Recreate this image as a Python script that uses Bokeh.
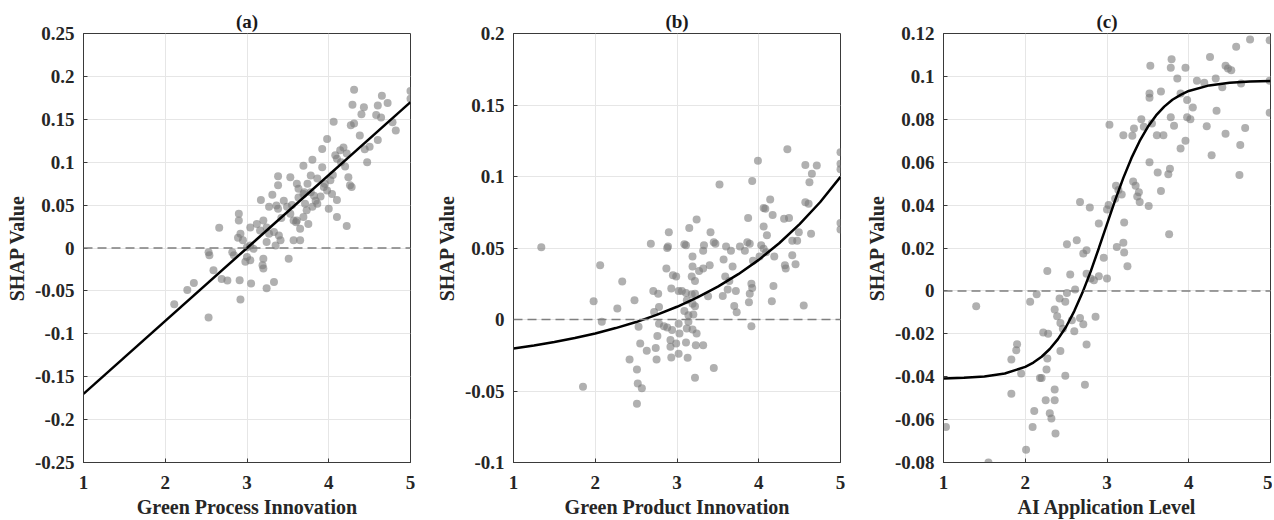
from bokeh.plotting import figure
from bokeh.layouts import row
from bokeh.models import FixedTicker, CustomJSTickFormatter, Span, Range1d
from bokeh.embed import file_html
from bokeh.resources import INLINE

FONT = "Liberation Serif"

# ---------------- data ----------------
titles = ["(a)", "(b)", "(c)"]
xlabels = ["Green Process Innovation", "Green Product Innovation", "AI Application Level"]
x_ticks = [1, 2, 3, 4, 5]
a_yticks = [-0.25, -0.2, -0.15, -0.1, -0.05, 0, 0.05, 0.1, 0.15, 0.2, 0.25]
b_yticks = [-0.1, -0.05, 0, 0.05, 0.1, 0.15, 0.2]
c_yticks = [-0.08, -0.06, -0.04, -0.02, 0, 0.02, 0.04, 0.06, 0.08, 0.1, 0.12]

a_x = [4.31, 4.65, 4.72, 5.0, 5.0, 4.29, 4.43, 4.40, 4.60, 4.58, 4.64, 4.82, 4.78, 4.06, 4.27, 4.31,
       4.38, 3.98, 4.60, 4.50, 3.92, 4.47, 3.80, 3.69, 4.08, 4.14, 4.18, 4.22, 4.10, 3.92, 3.78, 3.38,
       3.38, 3.53, 3.61, 3.63, 3.74, 3.86, 3.94, 3.98, 4.02, 4.24, 4.26, 4.28, 4.10, 4.04, 4.22, 4.10,
       4.00, 3.17, 3.31, 3.27, 3.36, 3.38, 3.49, 3.53, 3.57, 3.63, 3.69, 3.78, 3.84, 3.82, 3.86, 3.71,
       3.73, 3.69, 3.75, 3.61, 3.65, 3.57, 3.65, 2.90, 2.90, 2.66, 2.92, 2.95, 3.04, 3.12, 3.20, 3.24,
       3.16, 3.27, 3.33, 3.39, 3.41, 3.24, 3.35, 3.04, 3.00, 3.08, 2.53, 2.54, 2.84, 3.00, 3.04, 2.98,
       3.20, 3.19, 3.20, 3.51, 2.59, 2.69, 2.76, 2.35, 2.27, 2.91, 3.05, 3.33, 3.24, 2.11, 2.92, 2.53,
       2.82, 2.89, 3.45, 3.55, 3.90, 4.15, 4.20, 3.60, 3.70, 3.80, 4.44, 4.05, 3.95, 3.42]
a_y = [0.1845, 0.1775, 0.169, 0.183, 0.174, 0.167, 0.164, 0.156, 0.166, 0.155, 0.152, 0.137, 0.1465, 0.147, 0.143, 0.145,
       0.131, 0.127, 0.126, 0.118, 0.1155, 0.100, 0.103, 0.096, 0.108, 0.114, 0.117, 0.110, 0.104, 0.094, 0.0845, 0.0837,
       0.073, 0.0826, 0.075, 0.069, 0.075, 0.081, 0.071, 0.067, 0.079, 0.0826, 0.073, 0.071, 0.056, 0.063, 0.0256, 0.036,
       0.0457, 0.056, 0.062, 0.048, 0.0496, 0.0457, 0.048, 0.040, 0.032, 0.059, 0.063, 0.065, 0.055, 0.061, 0.0515, 0.0515,
       0.044, 0.036, 0.028, 0.032, 0.0225, 0.009, 0.009, 0.040, 0.032, 0.0236, 0.0167, 0.009, 0.024, 0.028, 0.032, 0.024,
       0.0205, 0.0167, 0.0186, 0.0147, 0.009, 0.007, 0.003, 0.003, 0.001, -0.001, -0.005, -0.0085, -0.0085, -0.0105, -0.0143, -0.016,
       -0.0124, -0.020, -0.024, -0.0124, -0.026, -0.036, -0.038, -0.0407, -0.049, -0.0376, -0.0415, -0.0395, -0.047, -0.0655, -0.060, -0.081,
       -0.005, 0.012, 0.055, 0.050, 0.060, 0.100, 0.095, 0.030, 0.065, 0.048, 0.115, 0.085, 0.075, 0.035]

b_x = [4.35, 3.99, 5.0, 5.0, 5.0, 4.57, 4.71, 4.65, 4.62, 3.52, 3.92, 4.14, 4.06, 4.08, 4.17, 4.57,
       4.61, 3.87, 4.31, 4.37, 3.24, 5.0, 5.0, 2.90, 3.41, 3.15, 4.06, 4.64, 4.49, 4.47, 4.41, 4.10,
       2.68, 2.88, 2.89, 3.09, 3.11, 3.33, 3.32, 3.45, 3.47, 3.60, 3.66, 3.77, 3.83, 3.86, 3.89, 4.03,
       4.06, 4.09, 4.01, 3.93, 4.19, 4.41, 4.32, 4.33, 4.45, 3.57, 3.19, 3.19, 3.27, 3.32, 3.40, 2.06,
       2.87, 2.95, 2.99, 3.68, 3.59, 3.64, 3.22, 3.18, 2.33, 3.91, 3.92, 4.18, 2.93, 3.02, 3.06, 3.11,
       3.18, 3.22, 2.71, 2.77, 3.38, 3.56, 3.62, 3.72, 3.89, 3.88, 4.16, 4.55, 1.98, 2.27, 2.48, 3.12,
       3.19, 3.22, 3.70, 3.73, 2.72, 2.78, 3.09, 3.14, 3.20, 2.08, 2.53, 2.78, 2.84, 2.88, 3.02, 2.94,
       3.03, 3.12, 3.14, 3.19, 3.24, 3.91, 2.76, 2.92, 2.92, 2.99, 2.55, 2.63, 2.74, 2.75, 3.11, 3.23,
       3.32, 2.93, 3.02, 3.13, 2.42, 2.51, 3.45, 3.22, 1.85, 2.52, 2.57, 2.51, 1.34]
b_y = [0.119, 0.111, 0.117, 0.109, 0.105, 0.108, 0.1077, 0.102, 0.096, 0.0944, 0.0968, 0.084, 0.078, 0.0775, 0.073, 0.082,
       0.081, 0.071, 0.0705, 0.071, 0.070, 0.0675, 0.063, 0.061, 0.061, 0.064, 0.065, 0.060, 0.061, 0.055, 0.055, 0.059,
       0.053, 0.050, 0.051, 0.0526, 0.052, 0.052, 0.048, 0.054, 0.053, 0.051, 0.048, 0.051, 0.048, 0.054, 0.053, 0.052,
       0.0495, 0.047, 0.044, 0.041, 0.044, 0.045, 0.038, 0.0356, 0.0386, 0.042, 0.044, 0.037, 0.034, 0.0356, 0.038, 0.038,
       0.0356, 0.031, 0.030, 0.037, 0.030, 0.027, 0.027, 0.030, 0.0265, 0.025, 0.022, 0.0235, 0.0216, 0.020, 0.020, 0.0186,
       0.0177, 0.018, 0.020, 0.018, 0.0163, 0.0165, 0.021, 0.020, 0.018, 0.012, 0.0128, 0.0098, 0.0128, 0.0077, 0.0135, 0.0135,
       0.011, 0.0093, 0.0095, 0.005, 0.0053, 0.0088, 0.006, 0.003, 0.0035, -0.0016, -0.005, -0.003, -0.0047, -0.0056, -0.003, -0.0074,
       -0.0098, -0.0063, -0.0016, -0.007, -0.0098, -0.0047, -0.0116, -0.0144, -0.019, -0.0167, -0.0167, -0.0219, -0.020, -0.028, -0.016, -0.018,
       -0.018, -0.0265, -0.024, -0.0267, -0.028, -0.035, -0.034, -0.0407, -0.047, -0.0447, -0.048, -0.059, 0.0506]

c_x = [4.75, 4.99, 4.58, 4.26, 3.79, 3.78, 3.53, 3.96, 4.45, 4.48, 4.52, 3.86, 3.66, 3.52, 3.52, 4.10,
       4.19, 4.33, 4.41, 4.64, 4.99, 3.90, 3.98, 4.05, 4.34, 4.99, 3.98, 4.02, 3.03, 3.42, 3.45, 3.55,
       3.61, 3.69, 3.33, 3.31, 3.20, 3.78, 3.82, 4.22, 4.69, 4.45, 3.96, 3.90, 4.63, 4.28, 3.52, 4.62,
       3.62, 3.75, 3.77, 3.66, 3.51, 3.76, 3.11, 3.14, 3.18, 3.10, 3.32, 3.35, 3.39, 3.40, 3.37, 2.67,
       2.79, 3.02, 3.00, 2.90, 3.21, 2.51, 2.63, 2.71, 2.75, 3.12, 3.20, 3.21, 3.25, 2.96, 3.00, 2.90,
       2.27, 2.55, 2.75, 2.80, 2.84, 2.61, 2.51, 2.14, 2.06, 1.40, 2.36, 2.39, 2.42, 2.49, 2.67, 2.71,
       2.60, 2.57, 2.86, 2.22, 2.28, 2.43, 2.46, 2.75, 1.90, 1.89, 1.83, 1.95, 2.18, 2.20, 2.27, 2.26,
       2.43, 2.49, 2.73, 1.83, 2.36, 2.25, 2.36, 2.11, 2.30, 2.32, 1.03, 2.09, 2.37, 2.01, 1.55]
c_y = [0.1172, 0.1169, 0.1138, 0.109, 0.108, 0.104, 0.105, 0.104, 0.105, 0.1037, 0.1029, 0.099, 0.093, 0.092, 0.090, 0.098,
       0.097, 0.099, 0.095, 0.0967, 0.098, 0.092, 0.089, 0.0855, 0.084, 0.083, 0.081, 0.080, 0.0775, 0.080, 0.0765, 0.078,
       0.0726, 0.0726, 0.0757, 0.0723, 0.0726, 0.081, 0.077, 0.0768, 0.076, 0.0733, 0.070, 0.0664, 0.068, 0.0632, 0.060, 0.054,
       0.0552, 0.0544, 0.057, 0.0466, 0.0396, 0.0264, 0.049, 0.047, 0.045, 0.043, 0.051, 0.049, 0.046, 0.0415, 0.044, 0.0415,
       0.0389, 0.040, 0.038, 0.0314, 0.0319, 0.0218, 0.0236, 0.0174, 0.019, 0.0205, 0.0224, 0.0179, 0.0115, 0.0155, 0.0058, 0.0068,
       0.0093, 0.0076, 0.008, 0.0058, 0.005, 0.0006, -0.001, -0.0016, -0.005, -0.0072, -0.0087, -0.0118, -0.0036, -0.005, -0.0126, -0.0155,
       -0.0188, -0.0137, -0.0121, -0.0194, -0.020, -0.015, -0.0176, -0.025, -0.0249, -0.0277, -0.032, -0.0385, -0.0406, -0.0406, -0.0315, -0.0367,
       -0.028, -0.0396, -0.0437, -0.048, -0.046, -0.051, -0.051, -0.056, -0.057, -0.0595, -0.0634, -0.0634, -0.0665, -0.074, -0.080]

# fitted curves
a_fit_x = [1.0, 5.0]
a_fit_y = [-0.17, 0.17]

b_fit_x = [1.0, 1.25, 1.5, 1.75, 2.0, 2.25, 2.5, 2.75, 3.0, 3.25, 3.5, 3.75, 4.0, 4.25, 4.5, 4.75, 5.0]
b_fit_y = [-0.0203, -0.0182, -0.0158, -0.0130, -0.0098, -0.0060, -0.0018, 0.0032, 0.0089, 0.0154,
           0.0230, 0.0317, 0.0417, 0.0533, 0.0667, 0.0820, 0.0998]

c_fit_x = [1.0, 1.25, 1.5, 1.75, 2.0, 2.1, 2.2, 2.3, 2.4, 2.5, 2.6, 2.7, 2.8, 2.9, 3.0, 3.1, 3.2,
           3.3, 3.4, 3.5, 3.6, 3.7, 3.8, 3.9, 4.0, 4.25, 4.5, 4.75, 5.0]
c_fit_y = [-0.0408, -0.0405, -0.0399, -0.0385, -0.0354, -0.0334, -0.0307, -0.0271, -0.0225, -0.0167,
           -0.0094, -0.0008, 0.0090, 0.0199, 0.0311, 0.0423, 0.0527, 0.0620, 0.0699, 0.0765, 0.0818,
           0.0859, 0.0891, 0.0914, 0.0932, 0.0958, 0.0970, 0.0976, 0.0978]

y_ranges = [(-0.25, 0.25), (-0.1, 0.2), (-0.08, 0.12)]

fmt_code = r"""
var s = tick.toFixed(3);
s = s.replace(/0+$/, '');
s = s.replace(/\.$/, '');
if (s == '-0') { s = '0'; }
return s;
"""


def make_panel(i, xs, ys, fx, fy, yticks, bl, br):
    y0, y1 = y_ranges[i]
    p = figure(frame_width=327, frame_height=429,
               x_range=Range1d(1, 5), y_range=Range1d(y0, y1),
               output_backend="svg", toolbar_location=None,
               min_border_left=bl, min_border_right=br,
               min_border_top=33, min_border_bottom=56,
               background_fill_color="white", border_fill_color="white")
    p.title.text = titles[i]
    p.title.align = "center"
    p.title.text_font = FONT
    p.title.text_font_style = "bold"
    p.title.text_font_size = "19px"
    p.title.text_color = "#1a1a1a"
    p.title.offset = 0
    p.title.standoff = 4

    p.outline_line_color = "#3a3a3a"
    p.outline_line_width = 1
    p.outline_line_alpha = 1

    p.xaxis.ticker = FixedTicker(ticks=x_ticks)
    p.yaxis.ticker = FixedTicker(ticks=yticks)
    p.yaxis.formatter = CustomJSTickFormatter(code=fmt_code)
    p.xaxis.axis_label = xlabels[i]
    p.yaxis.axis_label = "SHAP Value"
    for ax in (p.xaxis, p.yaxis):
        ax.axis_label_text_font = FONT
        ax.axis_label_text_font_style = "bold"
        ax.axis_label_text_font_size = "20px"
        ax.axis_label_text_color = "#262626"
        ax.major_label_text_font = FONT
        ax.major_label_text_font_style = "bold"
        ax.major_label_text_font_size = "19px"
        ax.major_label_text_color = "#262626"
        ax.axis_line_color = "#3a3a3a"
        ax.major_tick_in = 4
        ax.major_tick_out = 0
        ax.major_tick_line_color = "#3a3a3a"
        ax.minor_tick_line_color = None
    p.xaxis.major_label_standoff = 13
    p.xaxis.axis_label_standoff = 4
    p.yaxis.major_label_standoff = 9
    p.yaxis.axis_label_standoff = 4

    p.grid.grid_line_color = "#e6e6e6"
    p.grid.grid_line_width = 1

    p.scatter(xs, ys, size=8, fill_color="#7b7b7b", fill_alpha=0.6, line_color=None)
    zero = Span(location=0, dimension="width", line_color="#7f7f7f",
                line_width=1.5, line_dash="9 5")
    p.add_layout(zero)
    p.line(fx, fy, line_color="black", line_width=2.5)
    return p


pa = make_panel(0, a_x, a_y, a_fit_x, a_fit_y, a_yticks, 83, 20)
pb = make_panel(1, b_x, b_y, b_fit_x, b_fit_y, b_yticks, 83, 20)
pc = make_panel(2, c_x, c_y, c_fit_x, c_fit_y, c_yticks, 83, 2)

layout = row(pa, pb, pc)
open("out.html", "w").write(file_html(layout, INLINE))
